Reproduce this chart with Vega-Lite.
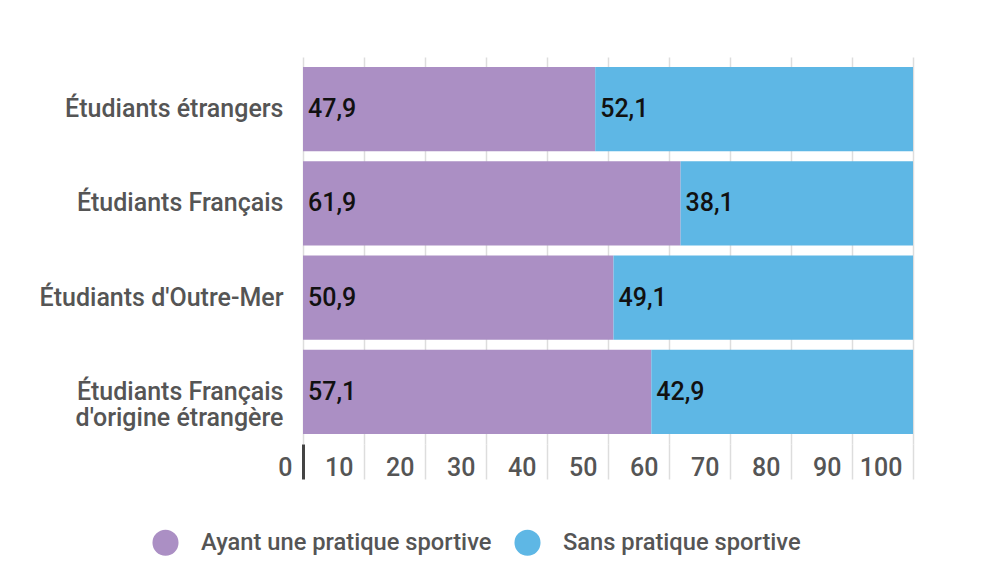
{
  "$schema": "https://vega.github.io/schema/vega-lite/v6.json",
  "width": 610,
  "height": 387,
  "autosize": "none",
  "padding": {"left": 303, "top": 57, "right": 88, "bottom": 139},
  "background": "white",
  "config": {
    "locale": {"number": {"decimal": ",", "thousands": " ", "grouping": [3], "currency": ["", " €"]}},
    "view": {"stroke": null},
    "font": "Roboto"
  },
  "data": {
    "values": [
      {"groupe": "Étudiants étrangers", "pratique": "Ayant une pratique sportive", "ordre": 1, "valeur": 47.9},
      {"groupe": "Étudiants étrangers", "pratique": "Sans pratique sportive", "ordre": 2, "valeur": 52.1},
      {"groupe": "Étudiants Français", "pratique": "Ayant une pratique sportive", "ordre": 1, "valeur": 61.9},
      {"groupe": "Étudiants Français", "pratique": "Sans pratique sportive", "ordre": 2, "valeur": 38.1},
      {"groupe": "Étudiants d'Outre-Mer", "pratique": "Ayant une pratique sportive", "ordre": 1, "valeur": 50.9},
      {"groupe": "Étudiants d'Outre-Mer", "pratique": "Sans pratique sportive", "ordre": 2, "valeur": 49.1},
      {"groupe": "Étudiants Français|d'origine étrangère", "pratique": "Ayant une pratique sportive", "ordre": 1, "valeur": 57.1},
      {"groupe": "Étudiants Français|d'origine étrangère", "pratique": "Sans pratique sportive", "ordre": 2, "valeur": 42.9}
    ]
  },
  "transform": [
    {"stack": "valeur", "groupby": ["groupe"], "sort": [{"field": "ordre", "order": "ascending"}], "as": ["x0", "x1"]}
  ],
  "encoding": {
    "y": {
      "field": "groupe",
      "type": "nominal",
      "sort": null,
      "scale": {"paddingInner": 0.106, "paddingOuter": 0.106},
      "axis": {
        "title": null,
        "ticks": false,
        "domain": false,
        "labelExpr": "split(datum.label, '|')",
        "labelFont": "Roboto",
        "labelFontSize": 25,
        "labelFontWeight": 500,
        "labelColor": "#555555",
        "labelPadding": 20,
        "labelLineHeight": 26,
        "labelLimit": 300
      }
    }
  },
  "layer": [
    {
      "mark": {"type": "bar"},
      "encoding": {
        "x": {
          "field": "x0",
          "type": "quantitative",
          "scale": {"domain": [0, 100], "nice": false},
          "axis": {
            "title": null,
            "values": [0, 10, 20, 30, 40, 50, 60, 70, 80, 90, 100],
            "orient": "bottom",
            "domain": false,
            "grid": true,
            "gridColor": "#dddddd",
            "gridWidth": 1.5,
            "tickSize": 35,
            "tickColor": {"condition": {"test": "datum.value === 0", "value": "#444444"}, "value": "#dddddd"},
            "tickWidth": {"condition": {"test": "datum.value === 0", "value": 3}, "value": 1.5},
            "labelAlign": "right",
            "labelBaseline": "alphabetic",
            "labelOffset": -11,
            "labelPadding": -4,
            "labelFont": "Roboto",
            "labelFontSize": 25,
            "labelFontWeight": 500,
            "labelColor": "#555555"
          }
        },
        "x2": {"field": "x1"},
        "color": {
          "field": "pratique",
          "type": "nominal",
          "scale": {"domain": ["Ayant une pratique sportive", "Sans pratique sportive"], "range": ["#ab8fc4", "#5eb7e5"]},
          "legend": {
            "title": null,
            "orient": "none",
            "direction": "horizontal",
            "legendX": -151,
            "legendY": 472,
            "symbolType": "circle",
            "symbolSize": 680,
            "symbolStrokeWidth": 0,
            "symbolOpacity": 1,
            "labelFont": "Roboto",
            "labelFontSize": 23.7,
            "labelFontWeight": 500,
            "labelColor": "#555555",
            "labelOffset": 22,
            "columnPadding": 22,
            "labelLimit": 400
          }
        }
      }
    },
    {
      "mark": {"type": "text", "align": "left", "baseline": "middle", "dx": 5, "font": "Roboto", "fontSize": 25, "fontWeight": 500, "color": "#111111"},
      "encoding": {
        "x": {"field": "x0", "type": "quantitative"},
        "text": {"field": "valeur", "type": "quantitative", "format": ".1f"}
      }
    },
    {
      "mark": {"type": "rule", "color": "#444444", "strokeWidth": 3},
      "encoding": {
        "x": {"datum": 0, "type": "quantitative"}
      }
    }
  ]
}
